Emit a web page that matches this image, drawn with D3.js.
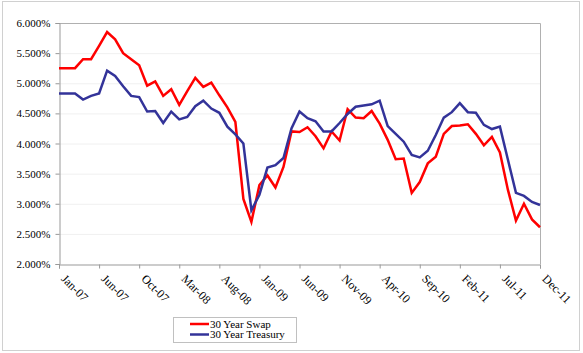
<!DOCTYPE html>
<html>
<head>
<meta charset="utf-8">
<script src="https://cdn.jsdelivr.net/npm/d3@7"></script>
<style>
  body { margin: 0; background: #fff; }
  text { font-family: "Liberation Serif", "DejaVu Serif", serif; fill: #000; }
</style>
</head>
<body>
<div id="chart"></div>
<script>
// month labels shown under every 5th point
let tickLabels = ['Jan-07', 'Jun-07', 'Oct-07', 'Mar-08', 'Aug-08', 'Jan-09', 'Jun-09',
  'Nov-09', 'Apr-10', 'Sep-10', 'Feb-11', 'Jul-11', 'Dec-11']

// rates in percent, one per period (61 points)
let swap = [5.25, 5.25, 5.25, 5.40, 5.40, 5.62, 5.85, 5.73, 5.50, 5.40,
  5.30, 4.96, 5.03, 4.79, 4.90, 4.64, 4.87, 5.09, 4.94, 5.01,
  4.80, 4.60, 4.36, 3.08, 2.70, 3.31, 3.47, 3.27, 3.61, 4.20,
  4.19, 4.27, 4.12, 3.92, 4.20, 4.05, 4.57, 4.43, 4.42, 4.54,
  4.33, 4.06, 3.74, 3.75, 3.18, 3.36, 3.67, 3.78, 4.16, 4.29,
  4.30, 4.32, 4.16, 3.97, 4.11, 3.85, 3.23, 2.72, 3.00, 2.74, 2.61]

let treasury = [4.83, 4.83, 4.83, 4.73, 4.79, 4.83, 5.21, 5.12, 4.95, 4.79,
  4.77, 4.53, 4.54, 4.34, 4.53, 4.40, 4.44, 4.62, 4.71, 4.58,
  4.51, 4.28, 4.15, 4.00, 2.89, 3.15, 3.60, 3.64, 3.76, 4.25,
  4.53, 4.42, 4.37, 4.20, 4.20, 4.34, 4.49, 4.61, 4.63, 4.65,
  4.71, 4.29, 4.16, 4.03, 3.81, 3.77, 3.88, 4.14, 4.43, 4.52,
  4.67, 4.52, 4.51, 4.31, 4.24, 4.28, 3.73, 3.18, 3.13, 3.03, 2.98]

let yTicks = [2, 2.5, 3, 3.5, 4, 4.5, 5, 5.5, 6]

let series = [
  {name: '30 Year Swap', values: swap, color: '#ff0000'},
  {name: '30 Year Treasury', values: treasury, color: '#333399'}
]

let width = 583
let height = 353
let plot = {left: 59, right: 540, top: 23, bottom: 264}

let svg = d3.select('#chart')
  .append('svg')
    .attr('width', width)
    .attr('height', height)

// outer chart border
svg.append('rect')
  .attr('x', 2.5).attr('y', 1.5)
  .attr('width', 577).attr('height', 349)
  .attr('fill', 'none')
  .attr('stroke', '#d0d0d0')

let x = d3.scaleLinear().domain([0, swap.length - 1]).range([plot.left, plot.right])
let y = d3.scaleLinear().domain([2, 6]).range([plot.bottom, plot.top])

// gridlines
svg.append('g')
  .selectAll('line')
  .data(yTicks.slice(1))
  .enter()
  .append('line')
    .attr('x1', plot.left).attr('x2', plot.right)
    .attr('y1', d => y(d) + 0.5).attr('y2', d => y(d) + 0.5)
    .attr('stroke', '#f0f0f0')

// plot frame (top and right)
svg.append('path')
  .attr('d', `M${plot.left},${plot.top + 0.5}H${plot.right + 0.5}V${plot.bottom}`)
  .attr('fill', 'none')
  .attr('stroke', '#b0b0b0')

// y axis
let yAxis = svg.append('g')
  .attr('transform', `translate(${plot.left + 0.5},0)`)
  .call(d3.axisLeft(y).tickValues(yTicks).tickSize(4).tickFormat(d => d3.format('.3f')(d) + '%'))
yAxis.select('.domain').attr('stroke', '#999')
yAxis.selectAll('.tick line').attr('stroke', '#999')
yAxis.selectAll('.tick text')
  .attr('x', -9)
  .style('font-size', '11px')
  .style('font-family', '"Liberation Serif", serif')

// x axis, tick every 5 points
let xTickIdx = tickLabels.map((d, i) => i * 5)
let xAxis = svg.append('g')
  .attr('transform', `translate(0,${plot.bottom + 0.5})`)
  .call(d3.axisBottom(x).tickValues(xTickIdx).tickSize(4).tickFormat((d, i) => tickLabels[i]))
xAxis.select('.domain').attr('stroke', '#999')
xAxis.selectAll('.tick line').attr('stroke', '#999')
xAxis.selectAll('.tick text')
  .attr('text-anchor', 'start')
  .attr('x', 0)
  .attr('y', 0)
  .attr('dy', 0)
  .attr('transform', 'translate(1,15) rotate(45)')
  .style('font-size', '12px')
  .style('font-family', '"Liberation Serif", serif')

let line = d3.line()
  .x((d, i) => x(i))
  .y(d => y(d))

svg.append('g')
  .selectAll('path')
  .data(series)
  .enter()
  .append('path')
    .attr('d', d => line(d.values))
    .attr('fill', 'none')
    .attr('stroke', d => d.color)
    .attr('stroke-width', 2.5)
    .attr('stroke-linejoin', 'miter')

// legend
let legend = svg.append('g').attr('transform', 'translate(173,317)')
legend.append('rect')
  .attr('x', 0.5).attr('y', 0.5)
  .attr('width', 123).attr('height', 25)
  .attr('fill', '#fff')
  .attr('stroke', '#c0c0c0')

let items = legend.selectAll('.item')
  .data(series)
  .enter()
  .append('g')
    .attr('transform', (d, i) => `translate(0,${7 + i * 10.5})`)
items.append('line')
  .attr('x1', 17).attr('x2', 36)
  .attr('stroke', d => d.color)
  .attr('stroke-width', 2.5)
items.append('text')
  .attr('x', 37)
  .attr('dy', '0.35em')
  .style('font-size', '11px')
  .text(d => d.name)
</script>
</body>
</html>
